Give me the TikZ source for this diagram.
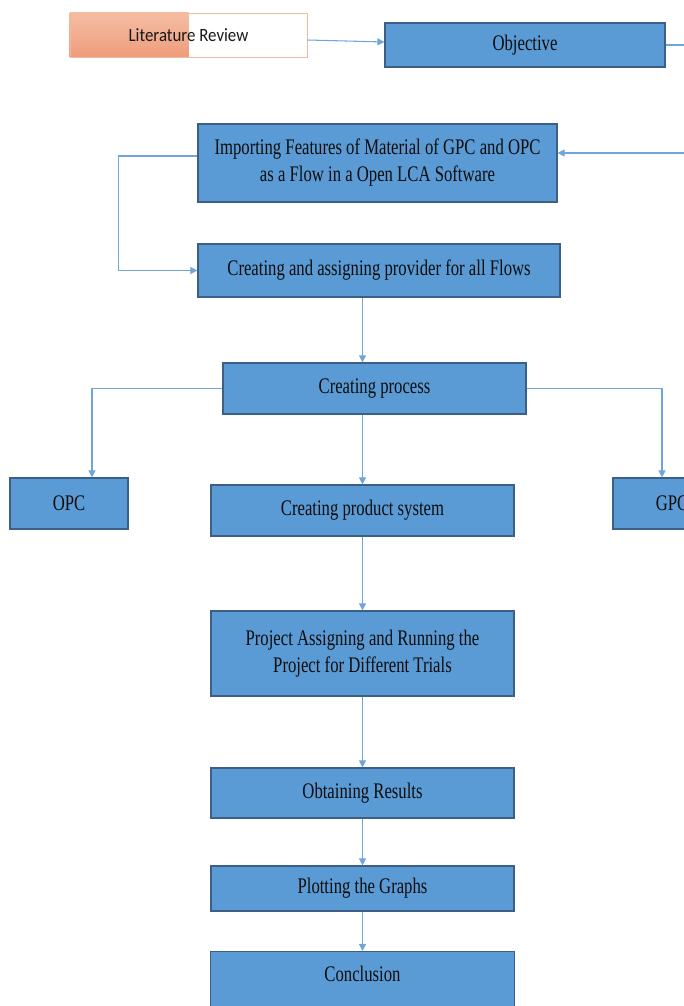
\documentclass[tikz,border=0pt]{standalone}
\usepackage{fontspec}
\setmainfont[FakeStretch=0.75]{Liberation Serif}
\newfontfamily\litfont[FakeStretch=0.9]{Carlito}
\usepackage{tikz}
\usetikzlibrary{arrows.meta,backgrounds,calc}
\definecolor{boxblue}{HTML}{5B9BD5}
\definecolor{boxline}{HTML}{3D5F85}
\definecolor{arrblue}{HTML}{6FA5DA}
\definecolor{litline}{HTML}{F4B89A}
\definecolor{littop}{HTML}{F5BDA3}
\definecolor{litbot}{HTML}{EE9C7C}
\tikzset{
  stepbox/.style={draw=boxline,line width=1pt,fill=boxblue,align=center,inner sep=0pt,text=black!95,font=\fontsize{19}{23}\selectfont},
  litbox/.style={draw=litline,line width=0.8pt,align=center,inner sep=0pt,text=black!90,font=\litfont\fontsize{16}{19}\selectfont},
  flow/.style={draw=arrblue,line width=0.9pt,-{Triangle[length=6pt,width=6pt]}},
}

\begin{document}
\begin{tikzpicture}[x=0.03cm,y=-0.03cm]
  \useasboundingbox (0,0) rectangle (684,1006);
  \clip (0,0) rectangle (684,1006);

  % top row
  \node[litbox,minimum width=7.11cm,minimum height=1.32cm] (lit) at (188.5,35) {Literature Review};
  \begin{scope}[on background layer]
    \shade[top color=littop,bottom color=litbot] (lit.south west) rectangle (lit.north);
  \end{scope}
  \node[stepbox,minimum width=8.4cm,minimum height=1.32cm] (obj) at (525,45) {Objective};

  % flows in the software
  \node[stepbox,minimum width=10.77cm,minimum height=2.34cm] (imp) at (377.5,163) {Importing Features of Material of GPC and OPC\\as a Flow in a Open LCA Software};
  \node[stepbox,minimum width=10.86cm,minimum height=1.59cm] (asg) at (379,270.5) {Creating and assigning provider for all Flows};
  \node[stepbox,minimum width=9.09cm,minimum height=1.53cm] (cp) at (374.5,388.5) {Creating process};
  \node[stepbox,minimum width=3.54cm,minimum height=1.53cm] (opc) at (69,503.5) {OPC};
  \node[stepbox,minimum width=3.54cm,minimum height=1.53cm] (gpc) at (672,503.5) {GPC};

  % main column
  \node[stepbox,minimum width=9.09cm,minimum height=1.53cm] (prod) at (362.5,510.5) {Creating product system};
  \node[stepbox,minimum width=9.09cm,minimum height=2.55cm] (proj) at (362.5,653.5) {Project Assigning and Running the\\Project for Different Trials};
  \node[stepbox,minimum width=9.09cm,minimum height=1.5cm] (res) at (362.5,793) {Obtaining Results};
  \node[stepbox,minimum width=9.09cm,minimum height=1.35cm] (plot) at (362.5,888.5) {Plotting the Graphs};
  \node[stepbox,anchor=north,minimum width=9.12cm,text height=0.9cm,text depth=1.5cm] (concl) at (362.5,951) {Conclusion};

  % connectors
  \draw[flow] ($(lit.east)+(0,5)$) -- ($(obj.west)+(0,-3)$);
  \draw[flow] (obj.east) -- ++(35,0) |- ($(imp.east)+(0,-10)$);
  \draw[flow] ($(imp.west)+(0,-7)$) -- ++(-79,0) |- (asg.west);
  \draw[flow] (asg.south -| prod.north) -- (cp.north -| prod.north);
  \draw[flow] (cp.west) -| ($(opc.north)+(23,0)$);
  \draw[flow] (cp.east) -| ($(gpc.north)+(-10,0)$);
  \draw[flow] (cp.south -| prod.north) -- (prod.north);
  \draw[flow] (prod.south) -- (proj.north);
  \draw[flow] (proj.south) -- (res.north);
  \draw[flow] (res.south) -- (plot.north);
  \draw[flow] (plot.south) -- (concl.north);
\end{tikzpicture}
\end{document}
